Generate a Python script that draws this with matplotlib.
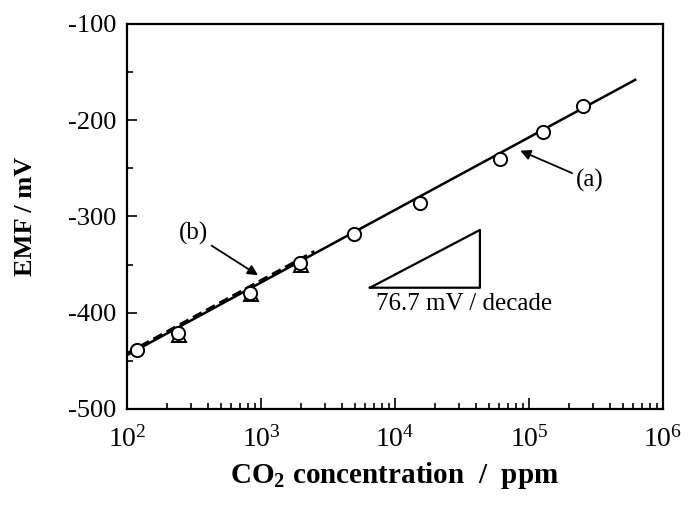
import matplotlib
matplotlib.use("Agg")
import matplotlib.pyplot as plt
from matplotlib.ticker import LogLocator, MultipleLocator, NullFormatter

plt.rcParams["font.family"] = ["Liberation Serif", "DejaVu Serif"]
plt.rcParams["mathtext.fontset"] = "custom"
plt.rcParams["mathtext.rm"] = "Liberation Serif"
plt.rcParams["mathtext.bf"] = "Liberation Serif:bold"
plt.rcParams["axes.unicode_minus"] = False

# Series (a): open circles
conc_a = [118, 242, 828, 1955, 4940, 15400, 60800, 126500, 254000]
emf_a = [-438.7, -421.4, -379.2, -348.6, -318.2, -286.3, -240.3, -212.5, -184.9]

# Series (b): open triangles
conc_b = [245, 840, 1980]
emf_b = [-423.0, -381.0, -350.5]

# Fitted lines
line_a_x = [100, 620000]
line_a_y = [-444, -158]
line_b_x = [100, 2500]
line_b_y = [-442, -336]

# Slope triangle
tri_x = [6500, 43000, 43000, 6500]
tri_y = [-374, -374, -314, -374]

fig = plt.figure(figsize=(6.88, 5.05), dpi=100)
ax = fig.add_axes([0.1846, 0.1901, 0.7791, 0.7624])

ax.plot(line_a_x, line_a_y, color="black", lw=1.8, zorder=2)
ax.plot(line_b_x, line_b_y, color="black", lw=1.8, ls=(0, (4, 2)), zorder=2)
ax.plot(conc_b, emf_b, ls="none", marker="^", ms=9.5, mfc="white", mec="black",
        mew=1.4, zorder=3)
ax.plot(conc_a, emf_a, ls="none", marker="o", ms=9.5, mfc="white", mec="black",
        mew=1.4, zorder=4)
ax.plot(tri_x, tri_y, color="black", lw=1.6)

ax.text(3.3e4, -380, "76.7 mV / decade", fontsize=18, ha="center", va="top")
ax.annotate("(a)", xy=(8.6e4, -231.6), xytext=(2.85e5, -263), fontsize=18,
            ha="center", va="center",
            arrowprops=dict(arrowstyle="-|>", color="black", lw=1.3,
                            mutation_scale=15, shrinkA=1, shrinkB=0))
ax.annotate("(b)", xy=(950, -361), xytext=(311, -318), fontsize=18,
            ha="center", va="center",
            arrowprops=dict(arrowstyle="-|>", color="black", lw=1.3,
                            mutation_scale=15, shrinkA=1, shrinkB=0))

ax.set_xscale("log")
ax.set_xlim(100, 1e6)
ax.set_ylim(-500, -100)
ax.xaxis.set_major_locator(LogLocator(base=10, numticks=10))
ax.xaxis.set_minor_locator(LogLocator(base=10, subs=range(2, 10), numticks=20))
ax.xaxis.set_minor_formatter(NullFormatter())
ax.yaxis.set_major_locator(MultipleLocator(100))
ax.yaxis.set_minor_locator(MultipleLocator(50))

ax.tick_params(which="both", direction="in", top=False, right=False, width=1.2)
ax.tick_params(axis="x", which="major", length=8, pad=12, labelsize=20)
ax.tick_params(axis="x", which="minor", length=4)
ax.tick_params(axis="y", which="major", length=7, pad=8, labelsize=19)
ax.tick_params(axis="y", which="minor", length=4)
for s in ax.spines.values():
    s.set_linewidth(1.6)

ax.set_xlabel(r"CO$_\mathbf{2}$ concentration  /  ppm", fontsize=21,
              fontweight="bold", labelpad=6)
ax.set_ylabel("EMF / mV", fontsize=19, fontweight="bold", labelpad=22)

fig.savefig("out.png", dpi=100)
